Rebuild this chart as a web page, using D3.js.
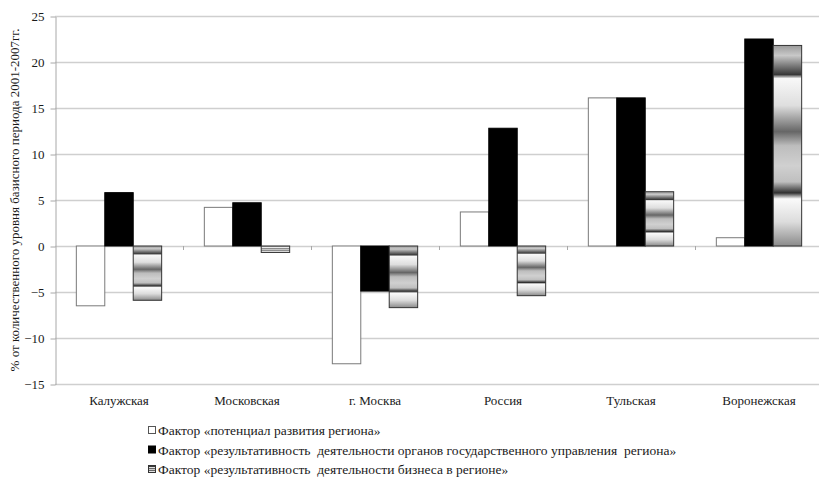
<!DOCTYPE html>
<html>
<head>
<meta charset="utf-8">
<script src="https://cdn.jsdelivr.net/npm/d3@7"></script>
<style>
  html, body { margin: 0; padding: 0; background: #fff; }
  .chart-labels { font-family: "Liberation Serif", "Tinos", serif; font-size: 13px; fill: #1a1a1a; }
  .legend-labels { font-family: "Liberation Serif", "Tinos", serif; font-size: 13.5px; fill: #1a1a1a; white-space: pre; }
</style>
</head>
<body>
<div id="bar-chart"></div>
<script>
// chart data
const categories = ["Калужская", "Московская", "г. Москва", "Россия", "Тульская", "Воронежская"];
const potential = [-6.5, 4.2, -12.8, 3.7, 16.1, 0.9];
const government = [5.8, 4.7, -4.9, 12.8, 16.1, 22.5];
const business = [-5.9, -0.7, -6.7, -5.4, 5.9, 21.8];
const yTicks = [-15, -10, -5, 0, 5, 10, 15, 20, 25];
const seriesNames = [
  "Фактор «потенциал развития региона»",
  "Фактор «результативность  деятельности органов государственного управления  региона»",
  "Фактор «результативность  деятельности бизнеса в регионе»"
];
const yTitle = "% от количественного уровня базисного периода 2001-2007гг.";

(function () {
  const W = 819, H = 478;
  const plot = { left: 55, top: 16, right: 55 + 6 * 128, bottom: 384 };

  const svg = d3.select("#bar-chart")
    .append("svg")
    .attr("width", W)
    .attr("height", H);

  // gradient used for the "business" series
  const grad = svg.append("defs")
    .append("linearGradient")
    .attr("id", "band-grad")
    .attr("x1", 0).attr("y1", 0)
    .attr("x2", 0).attr("y2", 1);
  [
    [0, "#9a9a9a"], [0.05, "#c8c8c8"], [0.145, "#383838"], [0.165, "#f8f8f8"],
    [0.3, "#dedede"], [0.43, "#666"], [0.5, "#bdbdbd"], [0.6, "#d0d0d0"],
    [0.68, "#bfbfbf"], [0.735, "#303030"], [0.765, "#fafafa"], [0.88, "#dcdcdc"],
    [1, "#8a8a8a"]
  ].forEach(([o, c]) => grad.append("stop").attr("offset", o).attr("stop-color", c));

  // scales
  const x = d3.scaleBand().domain(categories).range([plot.left, plot.right]).padding(0);
  const keys = ["potential", "government", "business"];
  const xSub = d3.scaleBand().domain(keys).range([0, x.bandwidth()])
    .paddingInner(0).paddingOuter(0.75);
  const y = d3.scaleLinear().domain([-15, 25]).range([plot.bottom, plot.top]);

  // gridlines
  svg.append("g")
    .selectAll("line")
    .data(yTicks)
    .join("line")
    .attr("x1", plot.left)
    .attr("x2", plot.right)
    .attr("y1", (d) => Math.round(y(d)) + 0.5)
    .attr("y2", (d) => Math.round(y(d)) + 0.5)
    .attr("stroke", "#cfcfcf")
    .attr("stroke-width", 1.3);

  // y axis
  const yAxisGroup = svg.append("g")
    .attr("transform", `translate(${plot.left + 0.5},0.5)`)
    .call(d3.axisLeft(y).tickValues(yTicks).tickSize(5).tickPadding(6).tickSizeOuter(0));
  yAxisGroup.select(".domain").attr("stroke", "#a8a8a8");
  yAxisGroup.selectAll(".tick line").attr("stroke", "#a8a8a8");
  yAxisGroup.selectAll(".tick text").attr("class", "chart-labels");

  // y axis title
  svg.append("text")
    .attr("class", "chart-labels")
    .attr("text-anchor", "middle")
    .attr("transform", `translate(19,${(plot.top + plot.bottom) / 2}) rotate(-90)`)
    .text(yTitle);

  // category ticks on the zero line
  svg.append("g")
    .selectAll("line")
    .data(categories.slice(1).map((c) => x(c)).concat([plot.right]))
    .join("line")
    .attr("x1", (d) => Math.round(d) + 0.5)
    .attr("x2", (d) => Math.round(d) + 0.5)
    .attr("y1", y(0))
    .attr("y2", y(0) + 4)
    .attr("stroke", "#a8a8a8");

  // category labels
  const xAxisGroup = svg.append("g")
    .attr("transform", `translate(0,${plot.bottom})`)
    .call(d3.axisBottom(x).tickSize(0).tickPadding(12));
  xAxisGroup.select(".domain").remove();
  xAxisGroup.selectAll(".tick text").attr("class", "chart-labels");

  // bars
  const series = [
    { key: "potential", values: potential, fill: "#fff", stroke: "#7a7a7a" },
    { key: "government", values: government, fill: "#000", stroke: "#000" },
    { key: "business", values: business, fill: "url(#band-grad)", stroke: "#333" }
  ];

  series.forEach((s) => {
    svg.append("g")
      .selectAll("rect")
      .data(s.values)
      .join("rect")
      .attr("x", (d, i) => x(categories[i]) + xSub(s.key))
      .attr("y", (d) => y(Math.max(0, d)))
      .attr("width", xSub.bandwidth())
      .attr("height", (d) => Math.abs(y(d) - y(0)))
      .attr("fill", s.fill)
      .attr("stroke", s.stroke)
      .attr("stroke-width", 1);
  });

  // legend
  const legend = svg.append("g");
  series.forEach((s, i) => {
    const ly = 431 + i * 19.5;
    legend.append("rect")
      .attr("x", 148.5)
      .attr("y", ly - 4.5)
      .attr("width", 7)
      .attr("height", 7)
      .attr("fill", s.fill)
      .attr("stroke", s.key === "potential" ? "#555" : s.stroke);
    legend.append("text")
      .attr("class", "legend-labels")
      .attr("x", 158)
      .attr("y", ly)
      .attr("dy", "0.32em")
      .text(seriesNames[i]);
  });
})();
</script>
</body>
</html>
